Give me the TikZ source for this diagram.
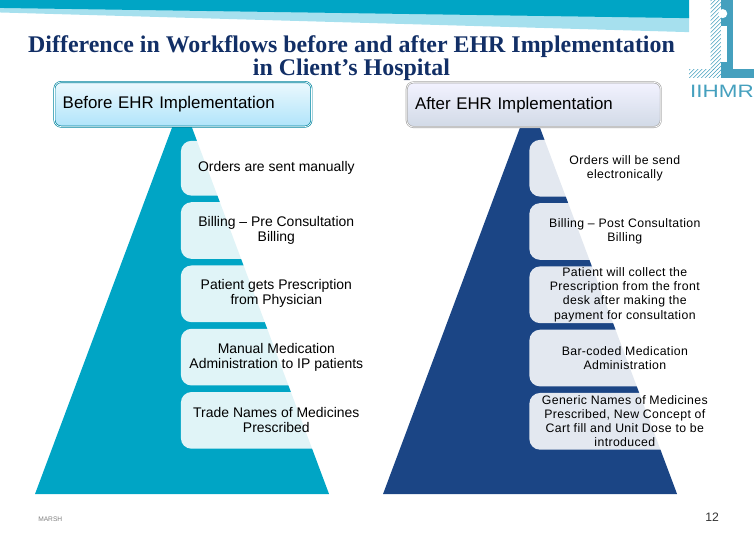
\documentclass[tikz,border=0pt]{standalone}
\usepackage{fontspec}
\setmainfont{Liberation Sans}
\newfontfamily\titlefont{Liberation Serif}
\usepackage{xcolor}
\usetikzlibrary{positioning, patterns}

\definecolor{tealband}{HTML}{00A5C5}
\definecolor{paleband}{HTML}{A6E0EE}
\definecolor{navyband}{HTML}{1B4585}
\definecolor{titleblue}{HTML}{122F66}
\definecolor{logoblue}{HTML}{45A0BE}
\definecolor{headsky}{HTML}{B0E4FA}

\begin{document}
\begin{tikzpicture}[
    node distance=0.16cm and 1cm,
    every node/.style={font=\fontsize{10.5}{11.3}\selectfont, text=black},
    headbox/.style={rounded corners=5pt, minimum height=1.18cm, text width=6.36cm, inner xsep=0.22cm, align=left, font=\fontsize{12.7}{14}\selectfont, double distance=0.5pt, double=white, line width=0.5pt},
    beforehead/.style={headbox, draw=tealband!80!black, top color=headsky!25!white, bottom color=headsky},
    afterhead/.style={headbox, text width=6.28cm, draw=gray!70, top color=white!95!blue, bottom color=navyband!20!white},
    rowbox/.style={fill=white, fill opacity=0.88, text opacity=1, rounded corners=8pt, minimum width=5.05cm, minimum height=1.5cm, inner sep=0pt, align=center},
    toprow/.style={rowbox, minimum height=1.45cm},
    rightrow/.style={rowbox, font=\fontsize{9.25}{10.6}\selectfont\addfontfeatures{LetterSpace=3}},
    footlabel/.style={text=gray, font=\fontsize{5}{6}\selectfont},
]

\useasboundingbox (0,0) rectangle (20,-14.2857);

% ---- Top banner ----
\fill[paleband] (0,-0.2) -- (18.23,-0.4) -- (18.23,-0.85) -- (0,-0.33) -- cycle;
\fill[tealband] (0,0) -- (18.23,0) -- (18.23,-0.48) -- (0,-0.21) -- cycle;

% ---- Logo ----
\fill[logoblue] (19.07,0) rectangle (19.4,-1.83);
\fill[logoblue] (19.07,-1.83) rectangle (19.95,-2.06);
\fill[pattern=north east lines, pattern color=logoblue] (18.8,0) rectangle (19.07,-1.83);
\fill[pattern=north east lines, pattern color=logoblue] (18.23,-1.83) rectangle (19.07,-2.06);
\fill[white] (19.07,-0.7) rectangle (19.24,-1.63);
\fill[white] (19.12,-0.36) circle (0.12cm);
\node[text=logoblue, font=\fontsize{13.5}{14}\selectfont, inner sep=0pt, xscale=1.25, transform shape] (logotext) at (19.1,-2.41) {IIHMR};

% ---- Title ----
\node[align=center, inner sep=0pt, text=titleblue, font=\titlefont\bfseries\fontsize{18}{17.9}\selectfont] (title) at (9.3,-1.54) {Difference in Workflows before and after EHR Implementation\\in Client’s Hospital};

% ---- Pyramids ----
\fill[tealband] (0.926,-13.07) -- (8.705,-13.07) -- (4.815,-2.67) -- cycle;
\fill[navyband] (10.133,-13.07) -- (17.912,-13.07) -- (14.02,-2.67) -- cycle;

% ---- Headers ----
\node[beforehead] (before) at (4.84,-2.76) {Before EHR Implementation};
\node[afterhead] (after) at (14.12,-2.77) {After EHR Implementation};

% ---- Before rows ----
\node[toprow] (orderA) at (7.31,-4.45) {Orders are sent manually};
\node[rowbox, below=of orderA] (billA) {Billing -- Pre Consultation\\Billing};
\node[rowbox, below=of billA] (rxA) {Patient gets Prescription\\from Physician};
\node[rowbox, below=of rxA] (medA) {Manual Medication\\Administration to IP patients};
\node[rowbox, below=of medA] (nameA) {Trade Names of Medicines\\Prescribed};

% ---- After rows ----
\node[toprow, rightrow] (orderB) at (16.53,-4.45) {Orders will be send\\electronically};
\node[rightrow, below=of orderB] (billB) {Billing -- Post Consultation\\Billing};
\node[rightrow, below=of billB] (rxB) {Patient will collect the\\Prescription from the front\\desk after making the\\payment for consultation};
\node[rightrow, below=of rxB] (medB) {Bar-coded Medication\\Administration};
\node[rightrow, below=of medB] (nameB) {Generic Names of Medicines\\Prescribed, New Concept of\\Cart fill and Unit Dose to be\\introduced};

% ---- Footer ----
\node[footlabel, inner sep=0pt] (marsh) at (1.33,-13.74) {MARSH};
\node[inner sep=0pt, text=black!80, font=\fontsize{9.2}{11}\selectfont] (pageno) at (18.84,-13.68) {12};

\end{tikzpicture}
\end{document}
